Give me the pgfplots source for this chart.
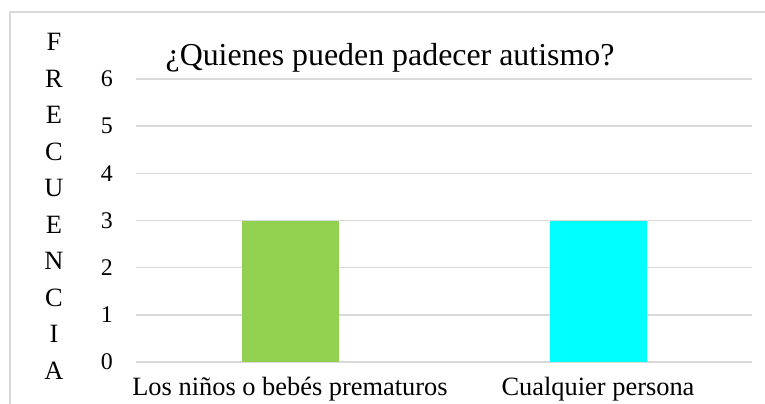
\documentclass[border=0pt]{standalone}
\usepackage{pgfplots}
\pgfplotsset{compat=1.18}
\usepackage{fontspec}
\setmainfont{Liberation Serif}
\definecolor{gridgray}{HTML}{D9D9D9}
\definecolor{bargreen}{HTML}{92D050}
\definecolor{barcyan}{HTML}{00FFFF}
\begin{document}
\begin{tikzpicture}[x=1bp,y=1bp]
\useasboundingbox[fill=white] (0,0) rectangle (765,403);
\draw[gridgray, line width=1.2bp] (10,-5) -- (10,391) -- (770,391);
\begin{axis}[
  at={(136bp,41bp)}, anchor=south west,
  scale only axis, width=616bp, height=283bp,
  xmin=-0.5, xmax=1.5, ymin=0, ymax=6,
  xtick={0,1}, xticklabels={Los niños o bebés prematuros, Cualquier persona},
  ytick={0,1,2,3,4,5,6},
  /pgf/number format/assume math mode=true,
  axis line style={draw=none}, major tick length=0pt,
  ymajorgrids, major grid style={gridgray, line width=1.4bp},
  yticklabel style={font=\fontsize{24}{28}\selectfont, anchor=east, inner sep=0pt, xshift=-23bp},
  xticklabel style={font=\fontsize{26.5}{30}\selectfont, anchor=base, inner sep=0pt, yshift=-33bp},
  clip=false,
]
\addplot[ybar, bar width=97bp, bar shift=0pt, fill=bargreen, draw=none] coordinates {(0,3)};
\addplot[ybar, bar width=97bp, bar shift=0pt, fill=barcyan, draw=none] coordinates {(1,3)};
\end{axis}
\node[anchor=base, inner sep=0pt, font=\fontsize{32}{36}\selectfont] at (390,338) {¿Quienes pueden padecer autismo?};
\node[anchor=north, inner sep=0pt, align=center, font=\fontsize{26.5}{36.7}\selectfont] at (54,370) {F\\R\\E\\C\\U\\E\\N\\C\\I\\A};
\end{tikzpicture}
\end{document}
